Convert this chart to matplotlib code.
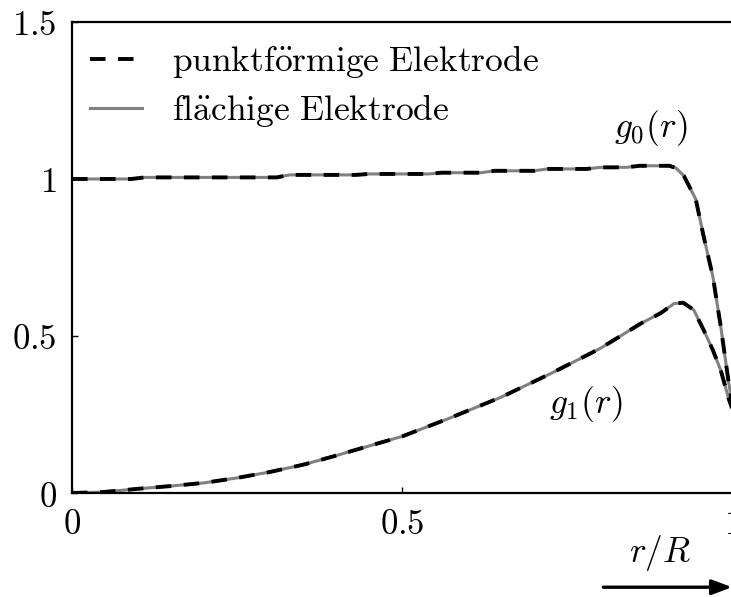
import matplotlib

matplotlib.use("Agg")
import matplotlib.pyplot as plt

plt.rcParams["mathtext.fontset"] = "cm"
plt.rcParams["font.family"] = ["DejaVu Serif"]

# zeroth-order weighting function g0(r)
r0 = [0.0, 0.09, 0.11, 0.31, 0.33, 0.43, 0.45, 0.54, 0.56, 0.62, 0.64,
      0.70, 0.72, 0.78, 0.80, 0.84, 0.86, 0.905, 0.915, 0.927, 0.945,
      0.957, 0.971, 0.983, 0.995, 1.0]
g0 = [1.0, 1.0, 1.005, 1.005, 1.013, 1.013, 1.016, 1.016, 1.02, 1.02, 1.026,
      1.026, 1.032, 1.032, 1.037, 1.037, 1.042, 1.042, 1.035, 1.01, 0.936,
      0.817, 0.689, 0.529, 0.35, 0.29]

# first-order weighting function g1(r)
r1 = [0.0, 0.047, 0.098, 0.149, 0.199, 0.25, 0.30, 0.35, 0.40, 0.452, 0.50,
      0.574, 0.65, 0.726, 0.80, 0.862, 0.892, 0.912, 0.926, 0.942, 0.957,
      0.971, 0.983, 0.995, 1.0]
g1 = [0.0, 0.003, 0.013, 0.022, 0.032, 0.048, 0.067, 0.090, 0.119, 0.151,
      0.18, 0.24, 0.305, 0.381, 0.46, 0.54, 0.573, 0.603, 0.606, 0.583,
      0.519, 0.455, 0.39, 0.30, 0.27]

xticks = [0, 0.5, 1]
yticks = [0, 0.5, 1, 1.5]
labels = [r"$\mathrm{punktf\ddot{o}rmige\ Elektrode}$",
          r"$\mathrm{fl\ddot{a}chige\ Elektrode}$"]

fs = 25.5

fig = plt.figure(figsize=(7.31, 5.97), dpi=100)
ax = fig.add_axes([0.0985, 0.1742, 0.9029, 0.789])

for g, r in [(g0, r0), (g1, r1)]:
    ax.plot(r, g, color="0.5", lw=2.2, zorder=2, solid_capstyle="butt")
    ax.plot(r, g, color="black", lw=2.8, dashes=(4, 3.2), zorder=3)

ax.set_xlim(0, 1)
ax.set_ylim(0, 1.5)
ax.set_xticks(xticks)
ax.set_yticks(yticks)
ax.set_xticklabels([r"$%g$" % v for v in xticks])
ax.set_yticklabels([r"$%g$" % v for v in yticks])
ax.tick_params(direction="in", length=4, width=1, labelsize=25)
ax.tick_params(axis="y", pad=11)
ax.tick_params(axis="x", pad=10)
ax.spines["right"].set_visible(False)
for s in ["left", "top", "bottom"]:
    ax.spines[s].set_linewidth(1.6)

ax.text(0.877, 1.163, r"$g_0(r)$", fontsize=fs, ha="center", va="center")
ax.text(0.778, 0.284, r"$g_1(r)$", fontsize=fs, ha="center", va="center")

# legend with proxy handles
h1, = ax.plot([], [], color="black", lw=2.8, dashes=(4, 3.2))
h2, = ax.plot([], [], color="0.5", lw=2.2)
ax.legend([h1, h2], labels, loc="upper left", frameon=False, fontsize=fs,
          handlelength=1.45, handletextpad=0.85, labelspacing=0.35,
          bbox_to_anchor=(-0.01, 1.008), borderaxespad=0.3)

# axis direction label with arrow
ax.text(0.891, -0.127, r"$r/R$", fontsize=fs, ha="center", va="center",
        transform=ax.transAxes)
ax.annotate("", xy=(1.0, -0.2), xytext=(0.805, -0.2),
            xycoords="axes fraction", textcoords="axes fraction",
            arrowprops=dict(arrowstyle="-|>,head_length=1.2,head_width=0.45",
                            color="black", lw=2.4, shrinkA=0, shrinkB=0),
            annotation_clip=False)

fig.savefig("out.png", dpi=100)
